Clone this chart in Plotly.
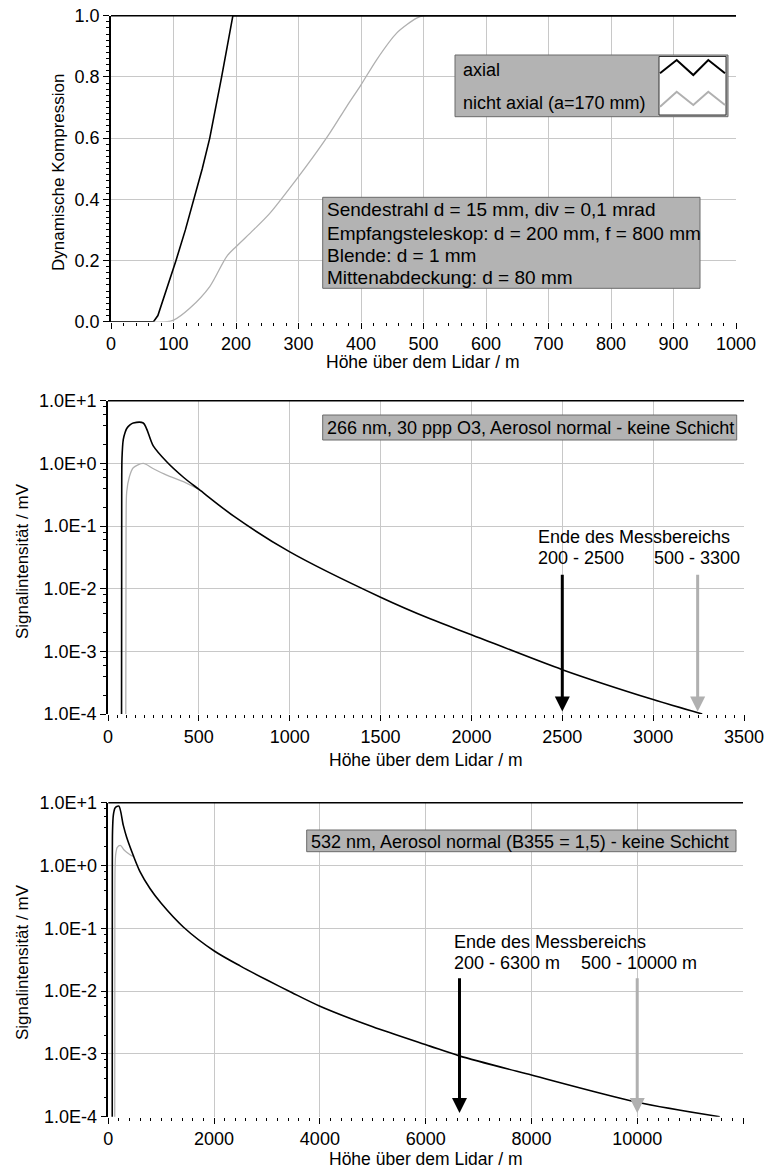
import math
import plotly.graph_objects as go

W, H = 768, 1171
def fx(p): return p / W
def fy(p): return 1 - p / H

# ---------------- data ----------------
# top: dynamic compression vs height
top_x_axial = [0, 68, 75, 88, 104, 119, 133, 146, 158, 168, 177, 186, 195, 1000]
top_y_axial = [0, 0, 0.02, 0.1, 0.2, 0.3, 0.4, 0.5, 0.6, 0.7, 0.8, 0.9, 1.0, 1.0]
top_x_nonaxial = [0, 90, 100, 126, 158, 185, 200, 228, 254, 300, 324, 350, 377, 400, 425, 457, 489, 500, 1000]
top_y_nonaxial = [0, 0, 0.005, 0.044, 0.115, 0.213, 0.245, 0.30, 0.354, 0.474, 0.54, 0.616, 0.703, 0.774, 0.856, 0.943, 0.992, 1.0, 1.0]

# middle: 266 nm signal
mid_x_axial = [74, 75.5, 77, 84, 94, 103, 121, 139, 194, 249, 323, 415, 501, 690, 998, 1500, 1773, 2003, 2500, 3000, 3270]
mid_y_axial = [1e-6, 0.3, 1.2, 2.4, 3.1, 3.6, 4.1, 4.4, 4.4, 1.9, 1.06, 0.6, 0.383, 0.145, 0.039, 0.0073, 0.0033, 0.00183, 0.00051, 0.00017, 0.0001]
mid_x_nonaxial = [97, 99.5, 103, 117, 139, 194, 250, 323, 415, 501]
mid_y_nonaxial = [1e-6, 0.1, 0.35, 0.6, 0.85, 1.0, 0.82, 0.65, 0.51, 0.383]
mid_range_end = [2500, 3245]
mid_arrow_top = 0.0176
mid_arrow_tip = 1.1e-4

# bottom: 532 nm signal
bot_x_axial = [74, 76, 80, 95, 126, 160, 202, 284, 347, 473, 599, 788, 1000, 1418, 2004, 2500, 3000, 3467, 4002, 5000, 6081, 6635, 8000, 10000, 11560]
bot_y_axial = [1e-6, 1.0, 3.5, 6.3, 8.2, 8.7, 8.8, 4.35, 2.82, 1.44, 0.8, 0.43, 0.25, 0.105, 0.0435, 0.025, 0.015, 0.0095, 0.00574, 0.0027, 0.00133, 0.00093, 0.00046, 0.00017, 0.0001]
bot_x_nonaxial = [120, 124, 128, 140, 170, 234, 290, 347, 441, 480]
bot_y_nonaxial = [1e-6, 0.3, 0.9, 1.5, 1.95, 2.08, 1.8, 1.63, 1.44, 1.40]
bot_range_end = [6640, 10000]
bot_arrow_top = 0.0169
bot_arrow_tip = 1.15e-4

log_ticks = [1e-4, 1e-3, 1e-2, 1e-1, 1e0, 1e1]
log_ticktext = ["1.0E-4", "1.0E-3", "1.0E-2", "1.0E-1", "1.0E+0", "1.0E+1"]
series_names = ["axial", "nicht axial (a=170 mm)"]

# ---------------- style ----------------
FONT = "Liberation Sans, Arial, Helvetica, sans-serif"
BLACK = "#000000"
GRAY = "#b0b0b0"
GRID = "#c8c8c8"
BOXFILL = "#b3b3b3"
BOXLINE = "#6a6a6a"
FS = 18

fig = go.Figure()

def add_pair(xa, ya, xn, yn, xr, yr, shape_a, shape_n):
    fig.add_trace(go.Scatter(x=xn, y=yn, xaxis=xr, yaxis=yr, mode="lines",
                             line=dict(color=GRAY, width=1.3, shape=shape_n, smoothing=0.8),
                             name=series_names[1], showlegend=False))
    fig.add_trace(go.Scatter(x=xa, y=ya, xaxis=xr, yaxis=yr, mode="lines",
                             line=dict(color=BLACK, width=1.6, shape=shape_a, smoothing=0.8),
                             name=series_names[0], showlegend=False))

add_pair(top_x_axial, top_y_axial, top_x_nonaxial, top_y_nonaxial, "x", "y", "linear", "spline")
add_pair(mid_x_axial, mid_y_axial, mid_x_nonaxial, mid_y_nonaxial, "x2", "y2", "spline", "spline")
add_pair(bot_x_axial, bot_y_axial, bot_x_nonaxial, bot_y_nonaxial, "x3", "y3", "spline", "spline")

def xax(domain, rng, dtick, mdtick, anchor):
    return dict(domain=domain, range=rng, dtick=dtick, tick0=0, anchor=anchor, tickformat="d",
                showline=False, zeroline=False, showgrid=True, gridcolor=GRID, gridwidth=1,
                ticks="outside", ticklen=6, tickwidth=1, tickcolor=BLACK,
                tickfont=dict(family=FONT, size=FS, color=BLACK), automargin=False,
                minor=dict(ticks="outside", ticklen=3, tickwidth=1, tickcolor=BLACK,
                           dtick=mdtick, tick0=0, showgrid=False))

minor_log = [m * 10 ** k for k in range(-4, 1) for m in (2, 4, 6, 8)]

def ylog(domain, anchor):
    return dict(domain=domain, type="log", range=[-4, 1], anchor=anchor,
                tickmode="array", tickvals=log_ticks, ticktext=log_ticktext,
                showline=True, linecolor=BLACK, linewidth=1.5, zeroline=False,
                showgrid=True, gridcolor=GRID, gridwidth=1,
                ticks="outside", ticklen=6, tickwidth=1, tickcolor=BLACK,
                tickfont=dict(family=FONT, size=FS, color=BLACK), automargin=False,
                minor=dict(ticks="outside", ticklen=3, tickwidth=1, tickcolor=BLACK,
                           tickmode="array", tickvals=minor_log, showgrid=False))

layout = dict(
    width=W, height=H, margin=dict(l=0, r=0, t=0, b=0),
    paper_bgcolor="white", plot_bgcolor="white", showlegend=False,
    font=dict(family=FONT, size=FS, color=BLACK),
    xaxis=xax([fx(111), fx(736)], [0, 1000], 100, 20, "y"),
    yaxis=dict(domain=[fy(321.7), fy(15.7)], range=[0, 1], dtick=0.2, tick0=0, tickformat=".1f",
               anchor="x", showline=True, linecolor=BLACK, linewidth=1.5, zeroline=False,
               showgrid=True, gridcolor=GRID, gridwidth=1,
               ticks="outside", ticklen=6, tickwidth=1, tickcolor=BLACK,
               tickfont=dict(family=FONT, size=FS, color=BLACK), automargin=False,
               minor=dict(ticks="outside", ticklen=3, tickwidth=1, tickcolor=BLACK,
                          dtick=0.02, tick0=0, showgrid=False)),
    xaxis2=xax([fx(108), fx(744)], [0, 3500], 500, 50, "y2"),
    yaxis2=ylog([fy(714), fy(400.7)], "x2"),
    xaxis3=xax([fx(108.3), fx(743)], [0, 12000], 2000, 200, "y3"),
    yaxis3=ylog([fy(1116.7), fy(802.7)], "x3"),
)
fig.update_layout(**layout)

shapes = []
for xr, yr in (("x", "y"), ("x2", "y2"), ("x3", "y3")):
    shapes.append(dict(type="line", xref=xr + " domain", yref=yr + " domain", x0=0, x1=1, y0=1, y1=1,
                       line=dict(color=BLACK, width=1.5)))

def rect(l, t, r, b, fill=BOXFILL, line=BOXLINE):
    shapes.append(dict(type="rect", xref="paper", yref="paper", x0=fx(l), x1=fx(r), y0=fy(b), y1=fy(t),
                       fillcolor=fill, line=dict(color=line, width=1), layer="above"))

# legend box (top chart)
rect(455, 55, 728, 116.7)
rect(659, 56.5, 726, 115, fill="white", line="#333333")
def zig(pts):
    return "M " + " L ".join(f"{fx(a):.5f},{fy(b):.5f}" for a, b in pts)
shapes.append(dict(type="path", xref="paper", yref="paper", layer="above",
                   path=zig([(660, 73.3), (676.7, 60), (693.3, 75), (708.3, 60), (725, 73.3)]),
                   line=dict(color=BLACK, width=2)))
shapes.append(dict(type="path", xref="paper", yref="paper", layer="above",
                   path=zig([(660, 106.7), (676.7, 91.7), (693.3, 105), (708.3, 91.7), (725, 105)]),
                   line=dict(color=GRAY, width=2)))

# info boxes
rect(322.7, 197.3, 700, 288.3)
rect(322.7, 415, 736.7, 440)
rect(306.7, 830, 736, 851.7)
fig.update_layout(shapes=shapes)

ann = []
def txt(t, x, y, xa="center", ya="middle", angle=0, size=FS):
    ann.append(dict(text=t, x=fx(x), y=fy(y), xref="paper", yref="paper", xanchor=xa, yanchor=ya,
                    textangle=angle, showarrow=False, font=dict(family=FONT, size=size, color=BLACK)))

# axis titles
txt("Dynamische Kompression", 58, 173, angle=-90, size=17)
txt("Höhe über dem Lidar / m", 423, 362, size=17.5)
txt("Signalintensität / mV", 22, 561, angle=-90, size=17)
txt("Höhe über dem Lidar / m", 426, 760, size=17.5)
txt("Signalintensität / mV", 22, 962, angle=-90, size=17)
txt("Höhe über dem Lidar / m", 426, 1159, size=17.5)

# legend texts
txt(series_names[0], 461, 70, xa="left")
txt(series_names[1], 461, 103, xa="left")

# box texts
box_lines = ["Sendestrahl d = 15 mm, div = 0,1 mrad", "Empfangsteleskop: d = 200 mm, f = 800 mm",
             "Blende: d = 1 mm", "Mittenabdeckung: d = 80 mm"]
for line, yy in zip(box_lines, [210, 233, 255.5, 277]):
    txt(line, 324.5, yy, xa="left", size=19)
txt("266 nm, 30 ppp O3, Aerosol normal - keine Schicht", 324.5, 428, xa="left")
txt("532 nm, Aerosol normal (B355 = 1,5) - keine Schicht", 308.5, 841.5, xa="left")

# measurement range labels
txt("Ende des Messbereichs", 536, 537, xa="left")
txt("200 - 2500", 536, 558, xa="left")
txt("500 - 3300", 652, 558, xa="left")
txt("Ende des Messbereichs", 452, 942, xa="left")
txt("200 - 6300 m", 452, 963, xa="left")
txt("500 - 10000 m", 579, 963, xa="left")

def arrow(xv, top, tip, xr, yr, color):
    ann.append(dict(text="", x=xv, y=math.log10(tip), ax=xv, ay=math.log10(top),
                    xref=xr, yref=yr, axref=xr, ayref=yr, showarrow=True,
                    arrowhead=2, arrowsize=1, arrowwidth=3, arrowcolor=color, standoff=0))

arrow(mid_range_end[0], mid_arrow_top, mid_arrow_tip, "x2", "y2", BLACK)
arrow(mid_range_end[1], mid_arrow_top, mid_arrow_tip, "x2", "y2", GRAY)
arrow(bot_range_end[0], bot_arrow_top, bot_arrow_tip, "x3", "y3", BLACK)
arrow(bot_range_end[1], bot_arrow_top, bot_arrow_tip, "x3", "y3", GRAY)

fig.update_layout(annotations=ann)
fig.write_html("out.html", config={"displayModeBar": False},
               post_script="document.body.style.margin='0px';")
